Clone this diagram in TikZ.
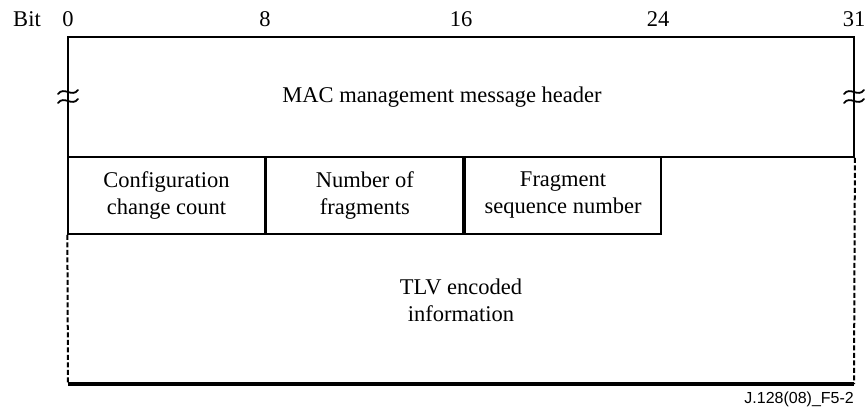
\documentclass[tikz,border=0pt]{standalone}
\usepackage{fontspec}
\setmainfont{Liberation Serif}
\newfontfamily\labelfont{Liberation Sans}
\usetikzlibrary{positioning}
\tikzset{
x=1pt, y=-1pt, % one unit is one pixel of the reference
every node/.style={font=\fontsize{22.5}{27}\selectfont, inner sep=0pt},
frame/.style={draw, line width=1.8pt}, % outline of header and fields
fieldbox/.style={frame, minimum width=196.5, minimum height=77, align=center},
openside/.style={line width=2pt, dash pattern=on 5pt off 2.5pt}, % dashed sides of the TLV part
brk/.style={line width=1.8pt, line cap=round}, % break marks on the header sides
bitnum/.style={anchor=base},
}

\begin{document}
\begin{tikzpicture}
    \useasboundingbox (0,0) rectangle (867,410);
    % bit numbers
    \node[bitnum] (bit) at (27,26) {Bit};
    \foreach \pos/\num in {68/0, 265/8, 461/16, 658/24, 854/31}
        \node[bitnum] (b\num) at (\pos,26) {\num};
    % header
    \node[frame, minimum width=786, minimum height=120] (header) at (461,97) {};
    \node (hdrtext) at (442,97) {MAC management message header};
    \foreach \x in {68,854} {
        \draw[brk] (\x-10,94) .. controls (\x-4,86) and (\x+4,98) .. (\x+10,90);
        \draw[brk] (\x-10,103) .. controls (\x-4,95) and (\x+4,107) .. (\x+10,99);
    }
    % fields
    \node[fieldbox] (conf) at (166.5,195.5) {Configuration\\change count};
    \node[fieldbox, right=0pt of conf] (frags) {Number of\\fragments};
    \node[fieldbox, right=0pt of frags] (seq) {Fragment\\sequence number};
    % TLV part
    \coordinate (bl) at (68,384);
    \coordinate (br) at (854,384);
    \draw[openside] (conf.south west) -- (bl);
    \draw[openside] (header.south east) -- (br);
    \draw[line width=3.5pt] (bl) -- (br);
    \node[align=center] (tlv) at (461,300) {TLV encoded\\information};
    \node[anchor=base east, font=\labelfont\fontsize{16}{18}\selectfont] (ref) at (854,403) {J.128(08)\_F5-2};
\end{tikzpicture}
\end{document}
